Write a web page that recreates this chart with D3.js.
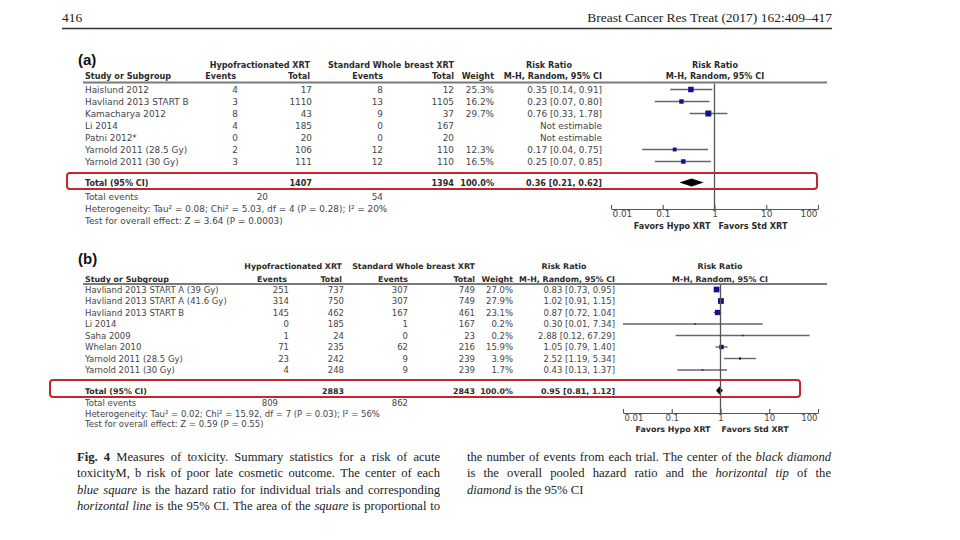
<!DOCTYPE html>
<html><head><meta charset="utf-8">
<script src="https://cdn.jsdelivr.net/npm/d3@7"></script>
<style>
html,body{margin:0;padding:0;background:#fff;}
svg{display:block;}
</style></head>
<body>
<svg id="chart" width="960" height="540"></svg>
<script>
// ---------------- DATA ----------------
const pageNumber = "416";
const journalRef = "Breast Cancer Res Treat (2017) 162:409–417";

// Panel (a): risk of acute toxicity
const studiesA = ["Haislund 2012", "Havliand 2013 START B", "Kamacharya 2012", "Li 2014", "Patni 2012*", "Yarnold 2011 (28.5 Gy)", "Yarnold 2011 (30 Gy)"];
const hypoEventsA = [4, 3, 8, 4, 0, 2, 3];
const hypoTotalA = [17, 1110, 43, 185, 20, 106, 111];
const stdEventsA = [8, 13, 9, 0, 0, 12, 12];
const stdTotalA = [12, 1105, 37, 167, 20, 110, 110];
const weightA = [25.3, 16.2, 29.7, null, null, 12.3, 16.5];
const rrA = [0.35, 0.23, 0.76, null, null, 0.17, 0.25];
const lowA = [0.14, 0.07, 0.33, null, null, 0.04, 0.07];
const highA = [0.91, 0.80, 1.78, null, null, 0.75, 0.85];
const pooledA = [0.36, 0.21, 0.62];          // estimate, low, high
const totalsA = [1407, 1394];                 // hypo total, std total
const totalEventsA = [20, 54];
const hetA = "Heterogeneity: Tau² = 0.08; Chi² = 5.03, df = 4 (P = 0.28); I² = 20%";
const testA = "Test for overall effect: Z = 3.64 (P = 0.0003)";

// Panel (b): risk of poor late cosmetic outcome
const studiesB = ["Havliand 2013 START A (39 Gy)", "Havliand 2013 START A (41.6 Gy)", "Havliand 2013 START B", "Li 2014", "Saha 2009", "Whelan 2010", "Yarnold 2011 (28.5 Gy)", "Yarnold 2011 (30 Gy)"];
const hypoEventsB = [251, 314, 145, 0, 1, 71, 23, 4];
const hypoTotalB = [737, 750, 462, 185, 24, 235, 242, 248];
const stdEventsB = [307, 307, 167, 1, 0, 62, 9, 9];
const stdTotalB = [749, 749, 461, 167, 23, 216, 239, 239];
const weightB = [27.0, 27.9, 23.1, 0.2, 0.2, 15.9, 3.9, 1.7];
const rrB = [0.83, 1.02, 0.87, 0.30, 2.88, 1.05, 2.52, 0.43];
const lowB = [0.73, 0.91, 0.72, 0.01, 0.12, 0.79, 1.19, 0.13];
const highB = [0.95, 1.15, 1.04, 7.34, 67.29, 1.40, 5.34, 1.37];
const pooledB = [0.95, 0.81, 1.12];
const totalsB = [2883, 2843];
const totalEventsB = [809, 862];
const hetB = "Heterogeneity: Tau² = 0.02; Chi² = 15.92, df = 7 (P = 0.03); I² = 56%";
const testB = "Test for overall effect: Z = 0.59 (P = 0.55)";

// Axis
const axisTicks = [0.01, 0.1, 1, 10, 100];
const axisTickLabels = ["0.01", "0.1", "1", "10", "100"];
const favorsLabels = ["Favors Hypo XRT", "Favors Std XRT"];

// Caption (two columns, lines as printed)
const captionLeft = [
  [{t: "Fig. 4", b: 1}, {t: " Measures of toxicity. Summary statistics for a risk of acute"}],
  [{t: "toxicityM, b risk of poor late cosmetic outcome. The center of each"}],
  [{t: "blue square", i: 1}, {t: " is the hazard ratio for individual trials and corresponding"}],
  [{t: "horizontal line", i: 1}, {t: " is the 95% CI. The area of the "}, {t: "square", i: 1}, {t: " is proportional to"}]
];
const captionRight = [
  [{t: "the number of events from each trial. The center of the "}, {t: "black diamond", i: 1}],
  [{t: "is the overall pooled hazard ratio and the "}, {t: "horizontal tip", i: 1}, {t: " of the"}],
  [{t: "diamond", i: 1}, {t: " is the 95% CI"}]
];

// ---------------- DRAWING ----------------
const svg = d3.select("#chart");
const SANS = "'DejaVu Sans', 'Open Sans', sans-serif";
const SERIF = "'Liberation Serif', 'Times New Roman', serif";
const TXT = "#454545", HDR = "#2b2b2b";

// page header
svg.append("text").attr("x", 62).attr("y", 22).text(pageNumber)
  .style("font-family", SERIF).style("font-size", "13.5px").style("fill", "#222");
svg.append("text").attr("x", 832).attr("y", 22).attr("text-anchor", "end").text(journalRef)
  .style("font-family", SERIF).style("font-size", "13.5px").style("fill", "#222");
svg.append("line").attr("x1", 62).attr("x2", 832).attr("y1", 28.5).attr("y2", 28.5)
  .style("stroke", "#333").style("stroke-width", 1.6);

function fmtRR(e, l, h) { return `${e.toFixed(2)} [${l.toFixed(2)}, ${h.toFixed(2)}]`; }

function drawPanel(p, L) {
  const g = svg.append("g");
  const txt = (x, y, s, opt = {}) => g.append("text").attr("x", x).attr("y", y).text(s)
    .attr("text-anchor", opt.anchor || "start")
    .style("font-family", SANS).style("font-size", (opt.size || (opt.bold ? L.fsB : L.fsR)) + "px")
    .style("font-weight", opt.bold ? 700 : 400).style("fill", opt.bold ? HDR : TXT);

  // panel label
  g.append("text").attr("x", 78).attr("y", L.labelY).text(p.label)
    .style("font-family", "'Liberation Sans', Arial, sans-serif").style("font-size", "15px")
    .style("font-weight", 700).style("fill", "#111");

  // headers
  const h1 = L.h1, h2 = L.h2;
  txt(L.cHypoTot, h1, "Hypofractionated XRT", {anchor: "end", bold: 1});
  txt(L.cStdTot, h1, "Standard Whole breast XRT", {anchor: "end", bold: 1});
  txt(L.rrHdr, h1, "Risk Ratio", {anchor: "middle", bold: 1});
  txt(L.plotHdr, h1, "Risk Ratio", {anchor: "middle", bold: 1});
  txt(85, h2, "Study or Subgroup", {bold: 1});
  txt(L.cHypoEv, h2, "Events", {anchor: "end", bold: 1});
  txt(L.cHypoTot, h2, "Total", {anchor: "end", bold: 1});
  txt(L.cStdEv, h2, "Events", {anchor: "end", bold: 1});
  txt(L.cStdTot, h2, "Total", {anchor: "end", bold: 1});
  txt(L.cWeight, h2, "Weight", {anchor: "end", bold: 1});
  txt(L.cRR, h2, "M-H, Random, 95% CI", {anchor: "end", bold: 1});
  txt(L.plotHdr, h2, "M-H, Random, 95% CI", {anchor: "middle", bold: 1});
  g.append("line").attr("x1", 83).attr("x2", 827).attr("y1", L.hLine).attr("y2", L.hLine)
    .style("stroke", "#7a7a7a").style("stroke-width", 2);

  // scales
  const x = d3.scaleLog().domain([0.01, 100]).range([L.x0, L.x1]);
  const y = d3.scaleLinear().domain([0, 1]).range([L.row0, L.row0 + L.rowStep]);
  const base = 3.2;

  // rows
  p.studies.forEach((s, i) => {
    const yc = y(i);
    txt(85, yc + base, s);
    txt(L.cHypoEv + 2, yc + base, p.hypoEv[i], {anchor: "end"});
    txt(L.cHypoTot + 2, yc + base, p.hypoTot[i], {anchor: "end"});
    txt(L.cStdEv, yc + base, p.stdEv[i], {anchor: "end"});
    txt(L.cStdTot, yc + base, p.stdTot[i], {anchor: "end"});
    if (p.weight[i] != null) txt(L.cWeight, yc + base, p.weight[i].toFixed(1) + "%", {anchor: "end"});
    if (p.rr[i] != null) {
      txt(L.cRR, yc + base, fmtRR(p.rr[i], p.low[i], p.high[i]), {anchor: "end"});
      g.append("line").attr("x1", x(p.low[i])).attr("x2", x(p.high[i]))
        .attr("y1", yc).attr("y2", yc).style("stroke", "#666").style("stroke-width", 1.4);
      const side = Math.max(1.5, 1.1 * Math.sqrt(p.weight[i]));
      g.append("rect").attr("x", x(p.rr[i]) - side / 2).attr("y", yc - side / 2)
        .attr("width", side).attr("height", side).style("fill", "#12128a");
    } else {
      txt(L.cRR, yc + base, "Not estimable", {anchor: "end"});
    }
  });

  // total row
  const yt = L.totalY;
  txt(85, yt + base, "Total (95% CI)", {bold: 1});
  txt(L.cHypoTot + 2, yt + base, p.totals[0], {anchor: "end", bold: 1});
  txt(L.cStdTot, yt + base, p.totals[1], {anchor: "end", bold: 1});
  txt(L.cWeight, yt + base, "100.0%", {anchor: "end", bold: 1});
  txt(L.cRR, yt + base, fmtRR(p.pooled[0], p.pooled[1], p.pooled[2]), {anchor: "end", bold: 1});
  const dh = 4;
  g.append("path").attr("d",
      `M${x(p.pooled[1])},${yt} L${x(p.pooled[0])},${yt - dh} L${x(p.pooled[2])},${yt} L${x(p.pooled[0])},${yt + dh} Z`)
    .style("fill", "#000");

  // footer text
  txt(85, L.evY + base, "Total events");
  txt(L.cTotEvH, L.evY + base, p.totEv[0], {anchor: "end"});
  txt(L.cStdEv, L.evY + base, p.totEv[1], {anchor: "end"});
  txt(85, L.hetY + base, p.het);
  txt(85, L.testY + base, p.test);

  // vertical line of no effect
  g.append("line").attr("x1", x(1)).attr("x2", x(1)).attr("y1", L.hLine + 1).attr("y2", L.axisY)
    .style("stroke", "#555").style("stroke-width", 1.3);

  // axis
  const ax = g.append("g").attr("transform", `translate(0,${L.axisY})`)
    .call(d3.axisBottom(x).tickValues(axisTicks).tickFormat((d, i) => axisTickLabels[i])
      .tickSizeInner(-4).tickSizeOuter(0).tickPadding(2));
  ax.select(".domain").style("stroke", "#555").style("stroke-width", 1.1);
  ax.selectAll(".tick line").style("stroke", "#555").style("stroke-width", 1.1);
  ax.selectAll(".tick text").style("font-family", SANS).style("font-size", L.fsR + "px").style("fill", TXT);
  ax.selectAll(".tick text").filter((d, i) => i === 0).attr("text-anchor", "start").attr("dx", 1);
  ax.selectAll(".tick text").filter((d, i) => i === axisTicks.length - 1).attr("text-anchor", "end").attr("dx", -1);

  txt(x(1) + L.favL, L.favY, favorsLabels[0], {anchor: "end", bold: 1});
  txt(x(1) + L.favR, L.favY, favorsLabels[1], {anchor: "start", bold: 1});

  // red highlight box
  g.append("rect").attr("x", L.box[0]).attr("y", L.box[1])
    .attr("width", L.box[2] - L.box[0]).attr("height", L.box[3] - L.box[1])
    .attr("rx", 3).style("fill", "none").style("stroke", "#c1272d").style("stroke-width", 2);
}

drawPanel({
  label: "(a)", studies: studiesA, hypoEv: hypoEventsA, hypoTot: hypoTotalA, stdEv: stdEventsA,
  stdTot: stdTotalA, weight: weightA, rr: rrA, low: lowA, high: highA, pooled: pooledA,
  totals: totalsA, totEv: totalEventsA, het: hetA, test: testA
}, {
  fsR: 8.9, fsB: 8.1,
  labelY: 65, h1: 67.5, h2: 79, hLine: 82.5, row0: 89.5, rowStep: 12, totalY: 182.5,
  evY: 196.5, hetY: 208.5, testY: 220.5, axisY: 209, favY: 229,
  cHypoEv: 236, cHypoTot: 310, cStdEv: 383, cStdTot: 454, cWeight: 494, cRR: 602, cTotEvH: 268,
  rrHdr: 549, plotHdr: 715, x0: 611, x1: 818, favL: -4, favR: 4,
  box: [67, 173, 817, 189]
});

drawPanel({
  label: "(b)", studies: studiesB, hypoEv: hypoEventsB, hypoTot: hypoTotalB, stdEv: stdEventsB,
  stdTot: stdTotalB, weight: weightB, rr: rrB, low: lowB, high: highB, pooled: pooledB,
  totals: totalsB, totEv: totalEventsB, het: hetB, test: testB
}, {
  fsR: 8.5, fsB: 7.9,
  labelY: 264, h1: 268.5, h2: 281.5, hLine: 284, row0: 289.5, rowStep: 11.5, totalY: 390.5,
  evY: 403, hetY: 413.5, testY: 423.5, axisY: 413, favY: 431.5,
  cHypoEv: 287, cHypoTot: 342, cStdEv: 408, cStdTot: 475, cWeight: 513, cRR: 615, cTotEvH: 278,
  rrHdr: 564, plotHdr: 720, x0: 623, x1: 818, favL: -10, favR: 1,
  box: [50, 380, 800, 397]
});

// caption with justified lines
function drawCaption(lines, x0, x1, y0, step, isLastCol) {
  const g = svg.append("g");
  lines.forEach((segs, li) => {
    const words = [];
    segs.forEach(s => s.t.split(" ").filter(w => w).forEach(w => words.push({w, b: s.b, i: s.i})));
    const y = y0 + li * step;
    const nodes = words.map(w => g.append("text").attr("y", y).text(w.w)
      .style("font-family", SERIF).style("font-size", "12.6px").style("fill", "#222")
      .style("font-weight", w.b ? 700 : 400).style("font-style", w.i ? "italic" : "normal"));
    const widths = nodes.map(n => n.node().getComputedTextLength());
    const total = d3.sum(widths);
    const last = isLastCol && li === lines.length - 1;
    const gap = last ? 3.2 : (x1 - x0 - total) / (words.length - 1);
    let xx = x0;
    nodes.forEach((n, i) => { n.attr("x", xx); xx += widths[i] + gap; });
  });
}
drawCaption(captionLeft, 77, 440, 461, 16.3, false);
drawCaption(captionRight, 467, 831, 461, 16.3, true);
</script>
</body></html>
